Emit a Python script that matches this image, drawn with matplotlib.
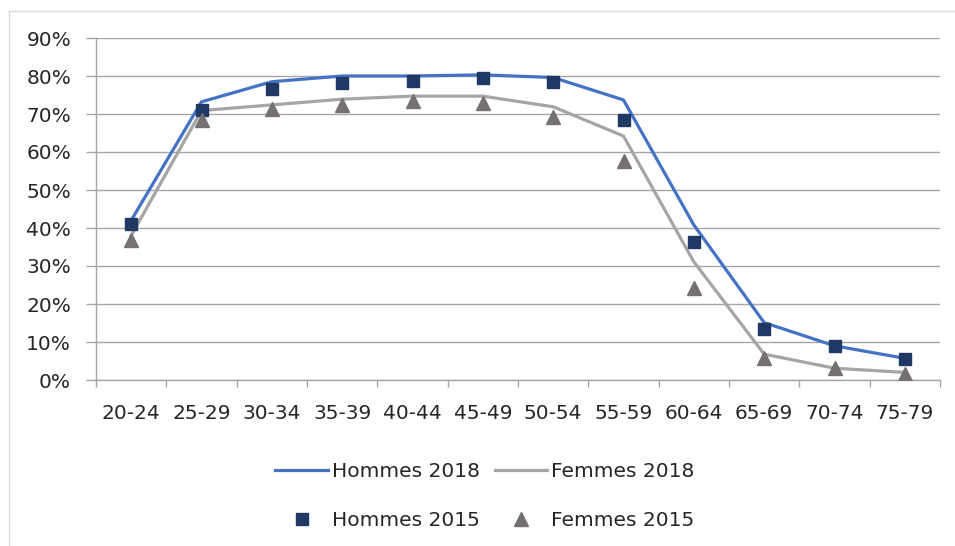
import matplotlib
matplotlib.use("Agg")
import matplotlib.pyplot as plt
from matplotlib.lines import Line2D
from matplotlib.ticker import FixedLocator, PercentFormatter
import numpy as np

categories = ["20-24", "25-29", "30-34", "35-39", "40-44", "45-49",
              "50-54", "55-59", "60-64", "65-69", "70-74", "75-79"]
hommes_2018 = [42.0, 73.2, 78.5, 80.0, 80.0, 80.3, 79.6, 73.7, 40.8, 15.1, 9.0, 5.7]
femmes_2018 = [38.0, 70.9, 72.4, 73.9, 74.7, 74.7, 71.9, 64.2, 31.1, 6.8, 3.1, 2.0]
hommes_2015 = [41.0, 71.0, 76.5, 78.2, 78.8, 79.5, 78.4, 68.4, 36.2, 13.3, 8.9, 5.4]
femmes_2015 = [36.8, 68.4, 71.2, 72.5, 73.5, 73.0, 69.3, 57.5, 24.1, 5.7, 3.1, 1.6]
yticks = [0, 10, 20, 30, 40, 50, 60, 70, 80, 90]

plt.rcParams['font.family'] = ['DejaVu Sans']

fig = plt.figure(figsize=(9.55, 5.46), dpi=100)
fig.patch.set_facecolor("white")

# outer chart frame (only left and top edges visible)
fx, fy = 8.5 / 955, 1 - 10.5 / 546
fig.add_artist(Line2D([fx, fx], [0, fy], transform=fig.transFigure, color="#d9d9d9", lw=1.0))
fig.add_artist(Line2D([fx, 1], [fy, fy], transform=fig.transFigure, color="#d9d9d9", lw=1.0))

ax = fig.add_axes([96/955, 1 - 380/546, 844/955, 342/546])
x = np.arange(len(categories))

grid_c = "#a6a6a6"
ax.plot(x, hommes_2018, color="#4472C4", lw=2.3, label="Hommes 2018", zorder=3, solid_joinstyle="miter")
ax.plot(x, femmes_2018, color="#A5A5A5", lw=2.3, label="Femmes 2018", zorder=3, solid_joinstyle="miter")
ax.plot(x, hommes_2015, ls="none", marker="s", ms=9, color="#1F3864", label="Hommes 2015", zorder=4)
ax.plot(x, femmes_2015, ls="none", marker="^", ms=10, color="#767171", label="Femmes 2015", zorder=4)

ax.set_xlim(-0.5, len(categories) - 0.5)
ax.set_ylim(0, 90)
ax.set_yticks(yticks)
ax.yaxis.set_major_formatter(PercentFormatter(decimals=0))
ax.set_xticks(x)
ax.set_xticklabels(categories)
ax.xaxis.set_minor_locator(FixedLocator(np.arange(-0.5, len(categories), 1.0)))

ax.grid(axis="y", color=grid_c, lw=1.0)
ax.set_axisbelow(True)
for s in ["top", "right"]:
    ax.spines[s].set_visible(False)
ax.spines["left"].set_color(grid_c)
ax.spines["bottom"].set_color(grid_c)
ax.spines["left"].set_linewidth(1.0)
ax.spines["bottom"].set_linewidth(1.0)

ax.tick_params(axis="y", length=7, color=grid_c, width=1.0, pad=11, labelsize=14.5, labelcolor="#262626")
ax.tick_params(axis="x", which="major", length=0, pad=17, labelsize=14.5, labelcolor="#262626")
ax.tick_params(axis="x", which="minor", length=5, color=grid_c, width=1.0)

handles, labels = ax.get_legend_handles_labels()
order = [0, 2, 1, 3]
leg = fig.legend([handles[i] for i in order], [labels[i] for i in order],
                 ncol=2, loc="center", bbox_to_anchor=(485/955, 1 - 496/546),
                 frameon=False, fontsize=14.5, handlelength=2.6, handletextpad=0.2,
                 columnspacing=0.75, labelspacing=1.45)
for t in leg.get_texts():
    t.set_color("#262626")

fig.savefig("out.png", dpi=100, facecolor="white")
